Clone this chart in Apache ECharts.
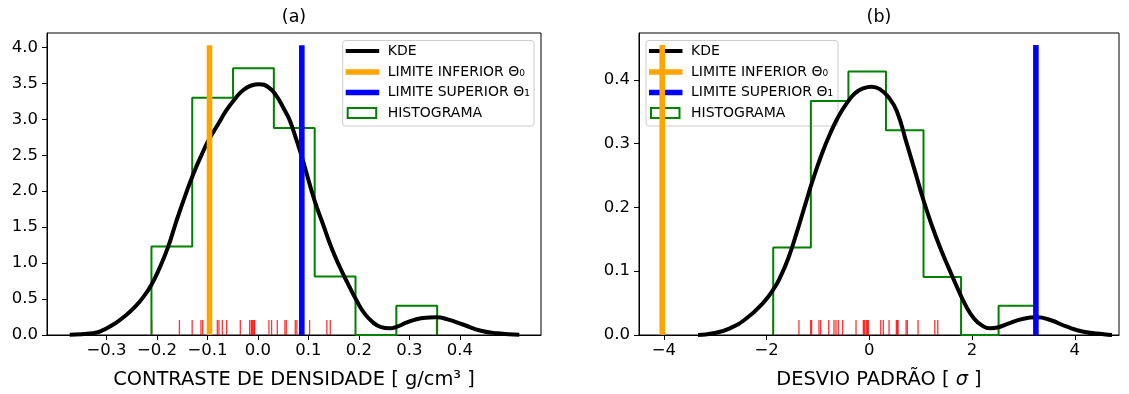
<!DOCTYPE html>
<html>
<head>
<meta charset="utf-8">
<script src="https://cdn.jsdelivr.net/npm/echarts@6/dist/echarts.min.js"></script>
<style>
html, body { margin: 0; padding: 0; background: #fff; }
#chart { width: 1129px; height: 394px; }
</style>
</head>
<body>
<div id="chart"></div>
<script>
const FONT = 'DejaVu Sans';

// ---- (a) contraste de densidade ----
const kdeA = [
  [-0.373, 0.005], [-0.327, 0.024], [-0.294, 0.115], [-0.261, 0.278], [-0.244, 0.390],
  [-0.228, 0.520], [-0.211, 0.700], [-0.195, 0.930], [-0.178, 1.226], [-0.162, 1.574],
  [-0.145, 1.921], [-0.129, 2.222], [-0.112, 2.500], [-0.096, 2.732], [-0.079, 2.930],
  [-0.063, 3.120], [-0.046, 3.280], [-0.030, 3.400], [-0.013, 3.470], [0.003, 3.486],
  [0.020, 3.449], [0.036, 3.333], [0.053, 3.125], [0.063, 2.986], [0.076, 2.720],
  [0.089, 2.431], [0.112, 1.875], [0.129, 1.540], [0.145, 1.226], [0.162, 0.949],
  [0.178, 0.718], [0.195, 0.486], [0.211, 0.301], [0.228, 0.176], [0.244, 0.110],
  [0.261, 0.093], [0.277, 0.120], [0.294, 0.171], [0.310, 0.210], [0.327, 0.236],
  [0.353, 0.246], [0.376, 0.218], [0.409, 0.139], [0.442, 0.060], [0.475, 0.024],
  [0.518, 0.005]
];
const binEdgesA = [-0.211, -0.1302, -0.0493, 0.0316, 0.1125, 0.1934, 0.2743, 0.3552];
const histA = [1.232, 3.30, 3.71, 2.88, 0.815, 0, 0.407];
const rugA = [
  -0.2105, -0.1556, -0.1303, -0.1129, -0.1095, -0.0976, -0.0937, -0.0804, -0.0772, -0.0705,
  -0.0620, -0.0349, -0.0164, -0.0131, -0.0115, -0.0099, -0.0081, -0.0065, 0.0218, 0.0271,
  0.0384, 0.0535, 0.0562, 0.0741, 0.0772, 0.0865, 0.1024, 0.1366, 0.1434, 0.3539
];
const limInfA = -0.096, limSupA = 0.087, limTopA = 4.03;
const xTicksA = [-0.3, -0.2, -0.1, 0, 0.1, 0.2, 0.3, 0.4];
const yTicksA = [0, 0.5, 1, 1.5, 2, 2.5, 3, 3.5, 4];

// ---- (b) desvio padrao ----
const kdeB = [
  [-3.333, 0.000], [-3.041, 0.0027], [-2.715, 0.0105], [-2.390, 0.0262], [-2.066, 0.0505],
  [-1.871, 0.0710], [-1.741, 0.0895], [-1.579, 0.1200], [-1.415, 0.1600], [-1.253, 0.2030],
  [-1.092, 0.2450], [-0.928, 0.2830], [-0.766, 0.3150], [-0.604, 0.3420], [-0.441, 0.3632],
  [-0.279, 0.3788], [-0.117, 0.3867], [0.047, 0.3892], [0.209, 0.3851], [0.370, 0.3730],
  [0.534, 0.3510], [0.729, 0.3000], [0.891, 0.2560], [1.053, 0.2116], [1.216, 0.1720],
  [1.378, 0.1370], [1.540, 0.1060], [1.704, 0.0757], [1.865, 0.0480], [2.027, 0.0270],
  [2.191, 0.0150], [2.353, 0.0105], [2.515, 0.0121], [2.678, 0.0172], [3.002, 0.0255],
  [3.263, 0.0277], [3.522, 0.0235], [3.848, 0.0130], [4.172, 0.0052], [4.561, 0.0011],
  [4.725, 0.000]
];
const binEdgesB = [-1.871, -1.138, -0.407, 0.324, 1.055, 1.786, 2.517, 3.248];
const histB = [0.137, 0.367, 0.413, 0.321, 0.091, 0, 0.046];
const rugB = [
  -1.871, -1.370, -1.142, -1.123, -0.980, -0.947, -0.791, -0.688, -0.649, -0.604,
  -0.519, -0.259, -0.117, -0.100, -0.084, -0.051, -0.035, -0.019, 0.222, 0.273,
  0.384, 0.526, 0.546, 0.560, 0.715, 0.741, 0.949, 1.275, 1.333, 3.245
];
const limInfB = -4.032, limSupB = 3.243, limTopB = 0.4545;
const xTicksB = [-4, -2, 0, 2, 4];
const yTicksB = [0, 0.1, 0.2, 0.3, 0.4];

const legendLabels = ['KDE', 'LIMITE INFERIOR Θ₀', 'LIMITE SUPERIOR Θ₁', 'HISTOGRAMA'];

// contorno do histograma (tipo "step")
function stepPath(edges, heights) {
  const pts = [[edges[0], 0]];
  heights.forEach((h, i) => { pts.push([edges[i], h], [edges[i + 1], h]); });
  pts.push([edges[edges.length - 1], 0]);
  return pts;
}
const fmt = (d) => (v) => (v < 0 ? '\u2212' : '') + Math.abs(v).toFixed(d);

function xAx(i, min, max, ticks, dec, name) {
  return {
    type: 'value', gridIndex: i, min: min, max: max,
    axisLine: { show: true, onZero: false, lineStyle: { color: '#000', width: 1 } },
    axisTick: { show: true, length: 5, customValues: ticks, lineStyle: { color: '#000', width: 1 } },
    axisLabel: { customValues: ticks, formatter: fmt(dec), color: '#000', fontSize: 16.5, fontFamily: FONT, margin: 7 },
    splitLine: { show: false },
    name: name, nameLocation: 'middle', nameGap: 35,
    nameTextStyle: {
      color: '#000', fontSize: 19.4, fontFamily: FONT,
      rich: { i: { fontStyle: 'italic', fontSize: 19.4, fontFamily: FONT, color: '#000' } }
    }
  };
}
function yAx(i, max, ticks) {
  return {
    type: 'value', gridIndex: i, min: 0, max: max,
    axisLine: { show: true, onZero: false, lineStyle: { color: '#000', width: 1 } },
    axisTick: { show: true, length: 5, customValues: ticks, lineStyle: { color: '#000', width: 1 } },
    axisLabel: { customValues: ticks, formatter: fmt(1), color: '#000', fontSize: 16.5, fontFamily: FONT, margin: 9 },
    splitLine: { show: false }
  };
}

function panelSeries(i, kde, edges, hist, rug, linf, lsup, ltop) {
  return [
    { type: 'line', xAxisIndex: i, yAxisIndex: i, data: stepPath(edges, hist), symbol: 'none',
      lineStyle: { color: '#008000', width: 2 } },
    { type: 'line', xAxisIndex: i, yAxisIndex: i, data: kde, symbol: 'none', smooth: 0.5,
      lineStyle: { color: '#000', width: 4 } },
    { type: 'scatter', xAxisIndex: i, yAxisIndex: i, data: rug.map(v => [v, 0]),
      symbol: 'rect', symbolSize: [1.3, 15], symbolOffset: [0, '-50%'],
      itemStyle: { color: '#ff0000', opacity: 0.8 } },
    { type: 'line', xAxisIndex: i, yAxisIndex: i, data: [[linf, 0], [linf, ltop]], symbol: 'none',
      lineStyle: { color: '#FFA500', width: 5.6, cap: 'butt' } },
    { type: 'line', xAxisIndex: i, yAxisIndex: i, data: [[lsup, 0], [lsup, ltop]], symbol: 'none',
      lineStyle: { color: '#0000FF', width: 5.6, cap: 'butt' } }
  ];
}

function legendGroup(x, w) {
  const rowY = [10.5, 31.5, 52, 72.5];
  const kids = [
    { type: 'rect', shape: { x: 0, y: 0, width: w, height: 85.5, r: 3 },
      style: { fill: 'rgba(255,255,255,0.8)', stroke: '#cccccc', lineWidth: 1 } },
    { type: 'line', shape: { x1: 3, y1: rowY[0], x2: 36.5, y2: rowY[0] }, style: { stroke: '#000', lineWidth: 4 } },
    { type: 'line', shape: { x1: 3, y1: rowY[1], x2: 36.5, y2: rowY[1] }, style: { stroke: '#FFA500', lineWidth: 5.6 } },
    { type: 'line', shape: { x1: 3, y1: rowY[2], x2: 36.5, y2: rowY[2] }, style: { stroke: '#0000FF', lineWidth: 5.6 } },
    { type: 'rect', shape: { x: 5, y: rowY[3] - 5, width: 28.5, height: 10 },
      style: { fill: 'none', stroke: '#008000', lineWidth: 2 } }
  ];
  legendLabels.forEach((t, k) => {
    kids.push({ type: 'text', x: 45, y: rowY[k],
      style: { text: t, fill: '#000', fontSize: 14, fontFamily: FONT, align: 'left', verticalAlign: 'middle' } });
  });
  return { type: 'group', x: x, y: 40.5, z: 100, children: kids };
}

const chart = echarts.init(document.getElementById('chart'), null, { renderer: 'canvas' });
chart.setOption({
  animation: false,
  textStyle: { fontFamily: FONT },
  grid: [
    { left: 47, top: 33, width: 494, height: 302, show: true, borderColor: '#000', borderWidth: 1, containLabel: false },
    { left: 639, top: 33, width: 480, height: 302, show: true, borderColor: '#000', borderWidth: 1, containLabel: false }
  ],
  xAxis: [
    xAx(0, -0.418, 0.561, xTicksA, 1, 'CONTRASTE DE DENSIDADE [ g/cm³ ]'),
    xAx(1, -4.484, 4.861, xTicksB, 0, 'DESVIO PADRÃO [ {i|σ} ]')
  ],
  yAxis: [yAx(0, 4.2, yTicksA), yAx(1, 0.4734, yTicksB)],
  series: [].concat(
    panelSeries(0, kdeA, binEdgesA, histA, rugA, limInfA, limSupA, limTopA),
    panelSeries(1, kdeB, binEdgesB, histB, rugB, limInfB, limSupB, limTopB)
  ),
  graphic: [
    { type: 'text', x: 294, y: 17, style: { text: '(a)', fill: '#000', fontSize: 17.5, fontFamily: FONT, align: 'center', verticalAlign: 'middle' } },
    { type: 'text', x: 879, y: 17, style: { text: '(b)', fill: '#000', fontSize: 17.5, fontFamily: FONT, align: 'center', verticalAlign: 'middle' } },
    legendGroup(342.7, 191.3),
    legendGroup(646, 192)
  ]
});
</script>
</body>
</html>
